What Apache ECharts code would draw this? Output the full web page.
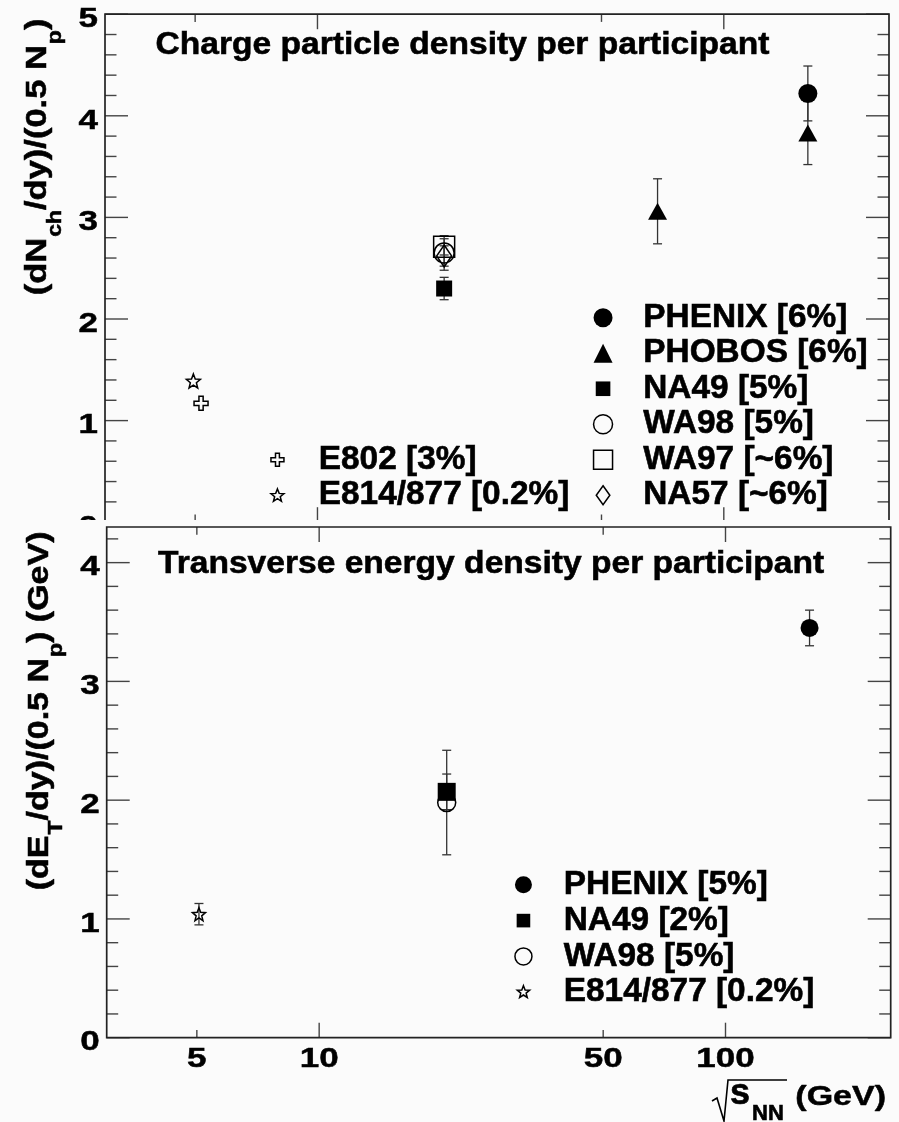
<!DOCTYPE html>
<html>
<head>
<meta charset="utf-8">
<script src="https://cdn.jsdelivr.net/npm/echarts@6.0.0/dist/echarts.min.js"></script>
<style>
  html, body { margin: 0; padding: 0; background: #fbfbfb; }
  #chart { width: 899px; height: 1122px; }
</style>
</head>
<body>
<div id="chart"></div>
<script>
// Collision energy axis (sqrt(s_NN) in GeV), shared by both panels
const xRange = [3, 255];
const xTickValues = [5, 10, 50, 100];
const xTickIsMajor = [false, true, false, true];

// Upper panel: (dN_ch/dy)/(0.5 N_p); rows are [sqrt(s_NN), value, error]
const yRangeTop = [0, 5];
const yTickValuesTop = [0, 1, 2, 3, 4, 5];
const phenixNch = [[161, 4.22, 0.27]];
const phobosNch = [[68.7, 3.06, 0.32], [161, 3.83, 0.31]];
const na49Nch = [[20.5, 2.30, 0.11]];
const wa98Nch = [[20.5, 2.65, 0.17]];
const wa97Nch = [[20.5, 2.71, 0.08]];
const na57Nch = [[20.5, 2.62, 0.10]];
const e802Nch = [[5.17, 1.17, 0]];
const e814Nch = [[4.95, 1.39, 0]];

// Lower panel: (dE_T/dy)/(0.5 N_p) in GeV
const yRangeBottom = [0, 4.3];
const yTickValuesBottom = [0, 1, 2, 3, 4];
const phenixEt = [[161, 3.45, 0.15]];
const na49Et = [[20.6, 2.07, 0.15]];
const wa98Et = [[20.6, 1.98, 0.44]];
const e814Et = [[5.06, 1.04, 0.09]];

// Legend entries
const legendTopRight = ['PHENIX [6%]', 'PHOBOS [6%]', 'NA49 [5%]', 'WA98 [5%]', 'WA97 [~6%]', 'NA57 [~6%]'];
const legendTopLeft = ['E802 [3%]', 'E814/877 [0.2%]'];
const legendBottom = ['PHENIX [5%]', 'NA49 [2%]', 'WA98 [5%]', 'E814/877 [0.2%]'];

const titleTop = 'Charge particle density per participant';
const titleBottom = 'Transverse energy density per participant';

const FONT = '"Liberation Sans", Arial, Helvetica, sans-serif';
const INK = '#000';
const BG = '#fbfbfb';
const HEAVY = 0.6;   // extra outline that thickens the bold glyphs

// Marker shapes
function starPath(pad) {
  const pts = [];
  for (let i = 0; i < 10; i++) {
    const r = i % 2 === 0 ? 10 : 4.3;
    const a = -Math.PI / 2 + i * Math.PI / 5;
    pts.push((10 + r * Math.cos(a)).toFixed(2) + ',' + (10 + r * Math.sin(a)).toFixed(2));
  }
  let d = 'M' + pts.join(' L') + ' Z';
  if (pad) d = 'M' + (-pad) + ',' + (-pad) + ' M' + (20 + pad) + ',' + (20 + pad) + ' ' + d;
  return 'path://' + d;
}
const CROSS = 'path://M3.5,0 L6.5,0 L6.5,3.5 L10,3.5 L10,6.5 L6.5,6.5 L6.5,10 L3.5,10 L3.5,6.5 L0,6.5 L0,3.5 L3.5,3.5 Z';
const TALL_DIAMOND = 'path://M5,0 L10,7 L5,14 L0,7 Z';
function paddedSquare(pad) {
  return 'path://M0,0 M' + (20 + 2 * pad) + ',' + (20 + 2 * pad) +
    ' M' + pad + ',' + pad + ' L' + (20 + pad) + ',' + pad + ' L' + (20 + pad) + ',' + (20 + pad) + ' L' + pad + ',' + (20 + pad) + ' Z';
}

const filledStyle = { color: INK, borderWidth: 0, opacity: 1 };
const hollowStyle = { color: 'rgba(0,0,0,0)', borderColor: INK, borderWidth: 1.5, opacity: 1 };

function scatter(name, rows, symbol, size, filled, gi, z) {
  return {
    type: 'scatter', name: name, xAxisIndex: gi, yAxisIndex: gi, z: z, silent: true,
    data: rows.map(r => [r[0], r[1]]),
    symbol: symbol, symbolSize: size,
    itemStyle: filled ? filledStyle : hollowStyle,
    emphasis: { disabled: true }
  };
}

function errorBars(rows, gi, z) {
  return {
    type: 'custom', xAxisIndex: gi, yAxisIndex: gi, z: z, silent: true,
    data: rows.filter(r => r[2] > 0),
    encode: { x: 0, y: 1 },
    renderItem: function (params, api) {
      const x = api.value(0), y = api.value(1), e = api.value(2);
      const hi = api.coord([x, y + e]);
      const lo = api.coord([x, y - e]);
      const c = 4.5;
      const st = { stroke: '#333', lineWidth: 1.3 };
      return {
        type: 'group', children: [
          { type: 'line', shape: { x1: hi[0], y1: hi[1], x2: lo[0], y2: lo[1] }, style: st },
          { type: 'line', shape: { x1: hi[0] - c, y1: hi[1], x2: hi[0] + c, y2: hi[1] }, style: st },
          { type: 'line', shape: { x1: lo[0] - c, y1: lo[1], x2: lo[0] + c, y2: lo[1] }, style: st }
        ]
      };
    }
  };
}

// Frame with ticks on all four sides and the numeric tick labels
function frameSeries(gi, yRange, yTicks, showXLabels, z) {
  return {
    type: 'custom', xAxisIndex: gi, yAxisIndex: gi, z: z, silent: true, clip: false,
    data: [[xRange[0], yRange[0]]],
    renderItem: function (params, api) {
      const lo = api.coord([xRange[0], yRange[0]]);
      const hi = api.coord([xRange[1], yRange[1]]);
      const left = lo[0], bottom = lo[1], right = hi[0], top = hi[1];
      const tick = { stroke: '#444', lineWidth: 1.4 };
      const kids = [];
      const line = (x1, y1, x2, y2) => kids.push({ type: 'line', shape: { x1, y1, x2, y2 }, style: tick });
      const label = (text, x, y, align) => kids.push({
        type: 'text', x: x, y: y, scaleY: 0.8,
        style: {
          text: text, x: 0, y: 0, fill: INK, fontSize: 35, fontWeight: 'bold', fontFamily: FONT,
          stroke: INK, lineWidth: HEAVY,
          align: align, verticalAlign: 'middle', textAlign: align, textVerticalAlign: 'middle'
        }
      });
      yTicks.forEach(v => {
        const y = api.coord([xRange[0], v])[1];
        line(left, y, left + 23, y);
        line(right - 23, y, right, y);
        label(String(v), left - 7, y + 5, 'right');
      });
      for (let k = 1; k * 0.2 < yRange[1] + 1e-9; k++) {
        if (k % 5 === 0) continue;
        const y = api.coord([xRange[0], k * 0.2])[1];
        line(left, y, left + 11.5, y);
        line(right - 11.5, y, right, y);
      }
      xTickValues.forEach((v, i) => {
        const x = api.coord([v, yRange[0]])[0];
        const len = xTickIsMajor[i] ? 15 : 7.7;
        line(x, bottom, x, bottom - len);
        line(x, top, x, top + len);
        if (showXLabels) label(String(v), x, bottom + 21.5, 'center');
      });
      kids.push({
        type: 'rect', shape: { x: left, y: top, width: right - left, height: bottom - top },
        style: { fill: null, stroke: '#222', lineWidth: 1.7 }
      });
      return { type: 'group', children: kids };
    }
  };
}

function legendItem(name, icon, filled) {
  return { name: name, icon: icon, itemStyle: filled ? filledStyle : hollowStyle };
}
function legendText(lineHeight, gap) {
  return {
    fontSize: 33.4, fontWeight: 'bold', fontFamily: FONT, color: INK,
    textBorderColor: INK, textBorderWidth: HEAVY,
    lineHeight: lineHeight, padding: [0, 0, 0, gap]
  };
}

// Rich text with lowered subscripts
function richStyles(mainSize, subSize, subDrop) {
  return {
    m: { fontSize: mainSize, fontWeight: 'bold', fontFamily: FONT, fill: INK, stroke: INK, lineWidth: HEAVY, height: mainSize, verticalAlign: 'top' },
    s: { fontSize: subSize, fontWeight: 'bold', fontFamily: FONT, fill: INK, stroke: INK, lineWidth: HEAVY, height: subSize, verticalAlign: 'top', padding: [subDrop, 0, 0, 1] }
  };
}
function plainText(text, size, align) {
  return { text: text, fontSize: size, fontWeight: 'bold', fontFamily: FONT, fill: INK, stroke: INK, lineWidth: HEAVY, align: align, verticalAlign: 'middle' };
}

const chart = echarts.init(document.getElementById('chart'), null, { renderer: 'canvas' });

const option = {
  backgroundColor: BG,
  animation: false,
  grid: [
    { left: 105, right: 10, top: 14.2, height: 508 },
    { left: 106.7, right: 8.3, top: 527, height: 510.7 }
  ],
  xAxis: [0, 1].map(i => ({ type: 'log', logBase: 10, min: xRange[0], max: xRange[1], gridIndex: i, show: false })),
  yAxis: [
    { type: 'value', min: yRangeTop[0], max: yRangeTop[1], gridIndex: 0, show: false },
    { type: 'value', min: yRangeBottom[0], max: yRangeBottom[1], gridIndex: 1, show: false }
  ],
  legend: [
    {
      data: [
        legendItem(legendTopRight[0], 'circle', true),
        legendItem(legendTopRight[1], 'triangle', true),
        legendItem(legendTopRight[2], paddedSquare(3), true),
        legendItem(legendTopRight[3], 'circle', false),
        legendItem(legendTopRight[4], 'rect', false),
        legendItem(legendTopRight[5], TALL_DIAMOND, false)
      ],
      orient: 'vertical', left: 592.8, top: 300, padding: 0, itemGap: 0,
      itemWidth: 19, itemHeight: 19, symbolKeepAspect: true, selectedMode: false,
      textStyle: legendText(35.5, 25.7), z: 5
    },
    {
      data: [
        legendItem(legendTopLeft[0], CROSS, false),
        legendItem(legendTopLeft[1], starPath(0), false)
      ],
      orient: 'vertical', left: 270.2, top: 442, padding: 0, itemGap: 0,
      itemWidth: 13, itemHeight: 13, symbolKeepAspect: true, selectedMode: false,
      textStyle: legendText(35.4, 29.8), z: 5
    },
    {
      data: [
        legendItem(legendBottom[0], 'circle', true),
        legendItem(legendBottom[1], paddedSquare(2.5), true),
        legendItem(legendBottom[2], 'circle', false),
        legendItem(legendBottom[3], starPath(3), false)
      ],
      orient: 'vertical', left: 514.2, top: 866.9, padding: 0, itemGap: 0,
      itemWidth: 17, itemHeight: 17, symbolKeepAspect: true, selectedMode: false,
      textStyle: legendText(35.8, 26.8), z: 60
    }
  ],
  graphic: {
    elements: [
      // lower pad hides the foot of the upper frame
      { type: 'rect', z: 50, silent: true, shape: { x: 0, y: 520, width: 899, height: 602 }, style: { fill: BG } },
      { type: 'text', z: 10, x: 155.5, y: 45.2, scaleY: 0.92, silent: true, style: plainText(titleTop, 33.6, 'left') },
      { type: 'text', z: 70, x: 158, y: 564.5, scaleY: 0.92, silent: true, style: plainText(titleBottom, 33.6, 'left') },
      {
        type: 'text', z: 10, x: 44.3, y: 18.6, rotation: Math.PI / 2, scaleY: 0.85, silent: true,
        style: {
          text: '{m|(dN}{s|ch}{m|/dy)/(0.5 N}{s|p}{m|)}', rich: richStyles(34.5, 23, 26),
          align: 'right', verticalAlign: 'middle'
        }
      },
      {
        type: 'text', z: 70, x: 46, y: 531.5, rotation: Math.PI / 2, scaleY: 0.85, silent: true,
        style: {
          text: '{m|(dE}{s|T}{m|/dy)/(0.5 N}{s|p}{m|) (GeV)}', rich: richStyles(34, 23, 26),
          align: 'right', verticalAlign: 'middle'
        }
      },
      {
        type: 'polyline', z: 70, silent: true,
        shape: { points: [[712, 1101], [717, 1098], [724, 1121], [728, 1080], [787, 1080]] },
        style: { stroke: INK, lineWidth: 1.6, fill: null }
      },
      {
        type: 'text', z: 70, x: 730, y: 1100.5, silent: true,
        style: {
          text: '{a|s}{b|NN}',
          rich: {
            a: { fontSize: 36, fontWeight: 'bold', fontFamily: FONT, fill: INK, stroke: INK, lineWidth: HEAVY, height: 36, verticalAlign: 'top' },
            b: { fontSize: 22, fontWeight: 'bold', fontFamily: FONT, fill: INK, stroke: INK, lineWidth: HEAVY, height: 22, verticalAlign: 'top', padding: [25.9, 0, 0, 2] }
          },
          align: 'left', verticalAlign: 'middle'
        }
      },
      { type: 'text', z: 70, x: 886, y: 1097.8, scaleY: 0.82, silent: true, style: plainText('(GeV)', 34, 'right') }
    ]
  },
  series: [
    // upper panel
    errorBars([].concat(phenixNch, phobosNch, na49Nch, wa98Nch, wa97Nch, na57Nch), 0, 2),
    scatter(legendTopRight[0], phenixNch, 'circle', 19, true, 0, 3),
    scatter(legendTopRight[1], phobosNch, 'triangle', [19, 17], true, 0, 3),
    scatter(legendTopRight[2], na49Nch, 'rect', 16, true, 0, 3),
    scatter(legendTopRight[4], wa97Nch, 'rect', 21, false, 0, 3),
    scatter(legendTopRight[3], wa98Nch, 'circle', 20, false, 0, 3),
    scatter(legendTopRight[5], na57Nch, 'diamond', [15, 22], false, 0, 3),
    scatter(legendTopLeft[0], e802Nch, CROSS, 14, false, 0, 3),
    scatter(legendTopLeft[1], e814Nch, starPath(0), 14, false, 0, 3),
    frameSeries(0, yRangeTop, yTickValuesTop, false, 4),
    // lower panel
    errorBars([].concat(phenixEt, na49Et, wa98Et, e814Et), 1, 61),
    scatter(legendBottom[0], phenixEt, 'circle', 18, true, 1, 62),
    scatter(legendBottom[2], wa98Et, 'circle', 18, false, 1, 62),
    scatter(legendBottom[1], na49Et, 'rect', 18, true, 1, 62),
    scatter(legendBottom[3], e814Et, starPath(0), 13, false, 1, 62),
    frameSeries(1, yRangeBottom, yTickValuesBottom, true, 63)
  ]
};

chart.setOption(option);
</script>
</body>
</html>
